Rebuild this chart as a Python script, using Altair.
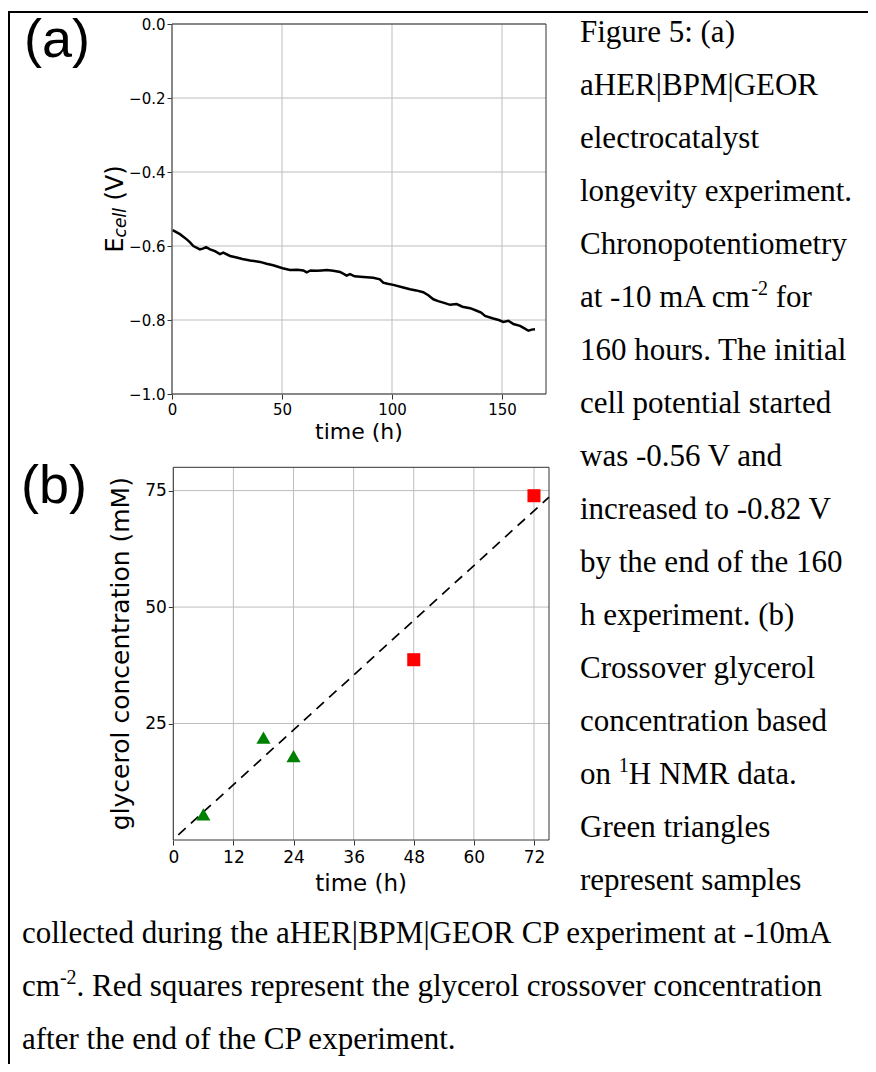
import altair as alt
import pandas as pd

# ---------------- data ----------------
# (a) chronopotentiometry trace
time_a = [0.3, 3.6, 6.7, 8.2, 9.7, 12.7, 14.0, 15.5, 17.3, 19.5, 21.8, 23.3, 26.4, 29.4,
          32.0, 35.5, 40.0, 43.0, 46.0, 50.3, 53.6, 57.0, 59.7, 61.2, 63.0, 65.8, 68.0,
          70.3, 73.3, 76.4, 79.4, 80.9, 83.0, 87.0, 91.5, 94.5, 96.0, 98.0, 100.6, 105.1,
          108.2, 111.0, 114.2, 116.5, 118.8, 121.0, 123.3, 126.4, 129.4, 132.0, 135.5,
          138.5, 140.5, 142.3, 146.0, 148.5, 150.6, 152.9, 155.2, 158.2, 160.0, 162.0,
          163.5, 165.0]
ecell_a = [-0.557, -0.568, -0.582, -0.590, -0.600, -0.609, -0.607, -0.603, -0.609, -0.614,
           -0.622, -0.618, -0.627, -0.631, -0.635, -0.639, -0.643, -0.648, -0.652, -0.660,
           -0.665, -0.664, -0.666, -0.671, -0.666, -0.667, -0.666, -0.665, -0.667, -0.670,
           -0.680, -0.676, -0.682, -0.684, -0.686, -0.690, -0.699, -0.702, -0.705, -0.712,
           -0.717, -0.720, -0.725, -0.733, -0.744, -0.749, -0.753, -0.759, -0.757, -0.764,
           -0.768, -0.775, -0.780, -0.789, -0.796, -0.800, -0.805, -0.802, -0.811, -0.816,
           -0.822, -0.829, -0.826, -0.825]

# (b) glycerol crossover
green_time = [6, 18, 24]
green_conc = [5.5, 22.0, 18.0]
red_time = [48, 72]
red_conc = [38.7, 73.9]
fit_time = [1, 75]
fit_conc = [1.1, 73.6]

a_xticks = [0, 50, 100, 150]
a_yticks = [-1.0, -0.8, -0.6, -0.4, -0.2, 0.0]
b_xticks = [0, 12, 24, 36, 48, 60, 72]
b_yticks = [25, 50, 75]

# caption: (text before superscript, superscript, text after)
caption_pre = [
    "Figure 5: (a)", "aHER|BPM|GEOR", "electrocatalyst", "longevity experiment.",
    "Chronopotentiometry", "at -10 mA cm", "160 hours. The initial", "cell potential started",
    "was -0.56 V and", "increased to -0.82 V", "by the end of the 160", "h experiment. (b)",
    "Crossover glycerol", "concentration based", "on ", "Green triangles", "represent samples",
    "collected during the aHER|BPM|GEOR CP experiment at -10mA", "cm",
    "after the end of the CP experiment.",
]
caption_sup = ["", "", "", "", "", "-2", "", "", "", "", "", "", "", "", "1", "", "", "", "-2", ""]
caption_post = ["", "", "", "", "", " for", "", "", "", "", "", "", "", "", "H NMR data.", "", "", "",
                ". Red squares represent the glycerol crossover concentration", ""]

# ---------------- layout ----------------
W, H = 860, 1056
OFF = 8  # page margin


def pg(v):
    return v - OFF


# panel pixel frames (page coordinates)
A_L, A_R, A_T, A_B = 172, 546, 24, 394
B_L, B_R, B_T, B_B = 173.3, 549, 467.3, 840

GRID = "#bdbdbd"
SPINE = "#333333"
SANS = "DejaVu Sans"
SERIF = "Liberation Serif"


def sxA():
    return alt.Scale(domain=[0, 170], range=[pg(A_L), pg(A_R)], nice=False, zero=False)


def syA():
    return alt.Scale(domain=[-1, 0], range=[pg(A_B), pg(A_T)], nice=False, zero=False)


def sxB():
    return alt.Scale(domain=[0, 75], range=[pg(B_L), pg(B_R)], nice=False, zero=False)


def syB():
    return alt.Scale(domain=[0, 80], range=[pg(B_B), pg(B_T)], nice=False, zero=False)


def axis(orient, offset, values, size, pad, label_expr=None, fmt=None):
    kw = dict(orient=orient, offset=offset, values=values, title=None, grid=False,
              domain=False, ticks=True, tickSize=5, tickColor=SPINE, tickWidth=1,
              labelFont=SANS, labelFontSize=size, labelColor="black",
              labelPadding=pad, labelFlush=False, labelOverlap=False)
    if label_expr:
        kw["labelExpr"] = label_expr
    if fmt:
        kw["format"] = fmt
    return alt.Axis(**kw)


one = pd.DataFrame({"k": [0]})

# ---- panel (a) ----
dfA = pd.DataFrame({"t": time_a, "E": ecell_a})
gxA = alt.Chart(pd.DataFrame({"v": a_xticks})).mark_rule(color=GRID, strokeWidth=1).encode(
    x=alt.X("v:Q", scale=sxA(), axis=None),
    y=alt.Y(datum=-1, scale=syA(), axis=None), y2=alt.Y2(datum=0))
gyA = alt.Chart(pd.DataFrame({"v": a_yticks})).mark_rule(color=GRID, strokeWidth=1).encode(
    y=alt.Y("v:Q", scale=syA(), axis=None),
    x=alt.X(datum=0, scale=sxA(), axis=None), x2=alt.X2(datum=170))
lineA = alt.Chart(dfA).mark_line(color="black", strokeWidth=2.5).encode(
    x=alt.X("t:Q", scale=sxA(),
            axis=axis("bottom", pg(A_B) - H, a_xticks, 15, 3, fmt="d")),
    y=alt.Y("E:Q", scale=syA(),
            axis=axis("left", -pg(A_L), a_yticks, 15, 2,
                      label_expr="replace(format(datum.value, '.1f'), '-', '\u2212')")))
frameA = alt.Chart(one).mark_rect(fillOpacity=0, stroke=SPINE, strokeWidth=1).encode(
    x=alt.X(datum=0, scale=sxA(), axis=None), x2=alt.X2(datum=170),
    y=alt.Y(datum=-1, scale=syA(), axis=None), y2=alt.Y2(datum=0))

# ---- panel (b) ----
gxB = alt.Chart(pd.DataFrame({"v": b_xticks})).mark_rule(color=GRID, strokeWidth=1).encode(
    x=alt.X("v:Q", scale=sxB(), axis=None),
    y=alt.Y(datum=0, scale=syB(), axis=None), y2=alt.Y2(datum=80))
gyB = alt.Chart(pd.DataFrame({"v": b_yticks})).mark_rule(color=GRID, strokeWidth=1).encode(
    y=alt.Y("v:Q", scale=syB(), axis=None),
    x=alt.X(datum=0, scale=sxB(), axis=None), x2=alt.X2(datum=75))
fitB = alt.Chart(pd.DataFrame({"t": fit_time, "c": fit_conc})).mark_line(
    color="black", strokeWidth=1.7, strokeDash=[10, 7]).encode(
    x=alt.X("t:Q", scale=sxB(), axis=axis("bottom", pg(B_B) - H, b_xticks, 17, 4, fmt="d")),
    y=alt.Y("c:Q", scale=syB(), axis=axis("left", -pg(B_L), b_yticks, 17, 2, fmt="d")))
greenB = alt.Chart(pd.DataFrame({"t": green_time, "c": green_conc})).mark_point(
    shape="triangle-up", filled=True, color="#008000", size=200, opacity=1).encode(
    x=alt.X("t:Q", scale=sxB(), axis=None), y=alt.Y("c:Q", scale=syB(), axis=None))
redB = alt.Chart(pd.DataFrame({"t": red_time, "c": red_conc})).mark_point(
    shape="square", filled=True, color="#ff0000", size=170, opacity=1).encode(
    x=alt.X("t:Q", scale=sxB(), axis=None), y=alt.Y("c:Q", scale=syB(), axis=None))
frameB = alt.Chart(one).mark_rect(fillOpacity=0, stroke=SPINE, strokeWidth=1).encode(
    x=alt.X(datum=0, scale=sxB(), axis=None), x2=alt.X2(datum=75),
    y=alt.Y(datum=0, scale=syB(), axis=None), y2=alt.Y2(datum=80))


# ---- text helpers ----
def txt(s, x, y, size, font, angle=0, align="left", italic=False):
    mk = dict(font=font, fontSize=size, align=align, baseline="alphabetic", color="black")
    if angle:
        mk["angle"] = angle
    if italic:
        mk["fontStyle"] = "italic"
    return alt.Chart(pd.DataFrame({"s": [s]})).mark_text(**mk).encode(
        x=alt.value(x), y=alt.value(y), text="s:N")


texts = []
# panel letters
texts.append(txt("(a)", pg(24), pg(57), 54, "Liberation Sans"))
texts.append(txt("(b)", pg(21), pg(503), 54, "Liberation Sans"))
# axis titles
texts.append(txt("E", pg(123), pg(252.6), 24, SANS, angle=270))
texts.append(txt("cell", pg(126), pg(237.4), 17, SANS, angle=270, italic=True))
texts.append(txt("(V)", pg(123), pg(200.5), 24, SANS, angle=270))
texts.append(txt("time (h)", pg((A_L + A_R) / 2), pg(439), 22, SANS, align="center"))
texts.append(txt("glycerol concentration (mM)", pg(129), pg((B_T + B_B) / 2), 25, SANS,
                 angle=270, align="center"))
texts.append(txt("time (h)", pg((B_L + B_R) / 2), pg(891), 23, SANS, align="center"))

# caption
TIMES = {"a": 444, "t": 278, " ": 250, "-": 333, "1": 500, "0": 500, "m": 778, "A": 722,
         "c": 444, "o": 500, "n": 500, "2": 500}
CAP = 31
SUP = 20


def tw(s, size):
    return sum(TIMES[ch] for ch in s) * size / 1000.0


for i, pre in enumerate(caption_pre):
    x0 = 580 if i < 17 else 22
    y0 = 41.7 + 53 * i
    texts.append(txt(pre, pg(x0), pg(y0), CAP, SERIF))
    sup = caption_sup[i]
    if sup:
        xs = x0 + tw(pre, CAP)
        texts.append(txt(sup, pg(xs), pg(y0 - 12), SUP, SERIF))
        post = caption_post[i]
        lead = len(post) - len(post.lstrip())
        xp = xs + tw(sup, SUP) + lead * 250 * CAP / 1000.0
        texts.append(txt(post.lstrip(), pg(xp), pg(y0), CAP, SERIF))

# page border lines (top and left)
border_top = alt.Chart(one).mark_rule(color="black", strokeWidth=2).encode(
    x=alt.value(0), x2=alt.value(W), y=alt.value(pg(12)))
border_left = alt.Chart(one).mark_rule(color="black", strokeWidth=2).encode(
    x=alt.value(1), y=alt.value(pg(12)), y2=alt.value(H))

chart = alt.layer(
    gxA, gyA, lineA, frameA,
    gxB, gyB, fitB, greenB, redB, frameB,
    border_top, border_left, *texts
).resolve_scale(x="independent", y="independent").resolve_axis(
    x="independent", y="independent").properties(
    width=W, height=H, padding=0, autosize=alt.AutoSizeParams(type="none"),
    background="white").configure_view(strokeWidth=0)

chart.save("out.html", embed_options={"renderer": "svg", "actions": False})
